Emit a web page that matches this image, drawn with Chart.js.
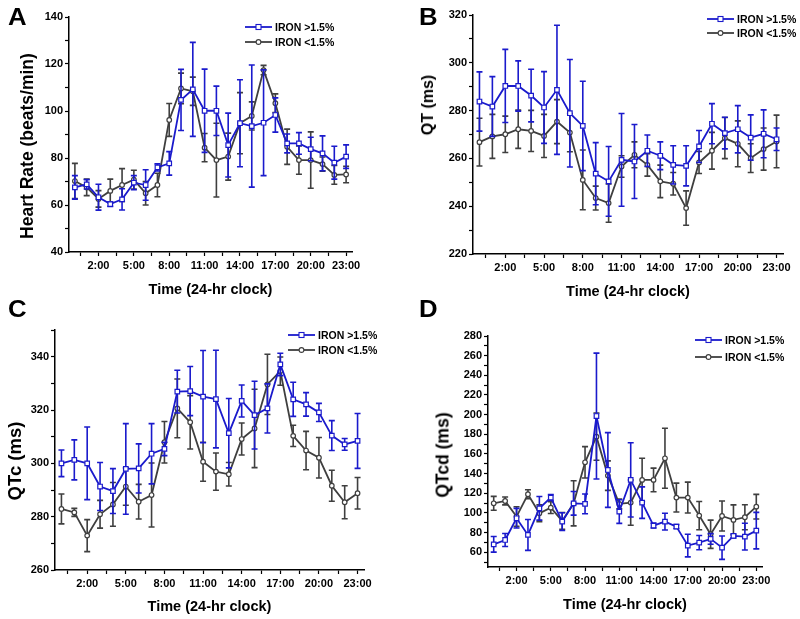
<!DOCTYPE html>
<html lang="en">
<head>
<meta charset="UTF-8">
<title>Heart rate, QT, QTc, QTcd by hour</title>
<script src="https://cdn.jsdelivr.net/npm/chart.js"></script>
<style>
    body { margin: 0; background: #fff; }
    #wrap { position: relative; width: 800px; height: 619px; background: #fff; overflow: hidden; font-family: Arial, "Liberation Sans", sans-serif; }
    .panel { position: absolute; }
    .letter { position: absolute; font-weight: bold; font-size: 23px; line-height: 1; color: #000; transform: scaleX(1.12); transform-origin: left top; }
    .ytitle { position: absolute; font-weight: bold; white-space: nowrap; color: #000; transform: translate(-50%, -50%) rotate(-90deg); }
    .legend { position: absolute; font-weight: bold; font-size: 10.5px; color: #000; }
    .legend .row { display: flex; align-items: center; white-space: nowrap; }
    .legend svg { margin-right: 3px; }
</style>
</head>
<body>
<div id="wrap">
    <canvas id="cA" class="panel" width="400" height="305" style="left:0;top:0"></canvas>
    <canvas id="cB" class="panel" width="400" height="305" style="left:400px;top:0"></canvas>
    <canvas id="cC" class="panel" width="400" height="314" style="left:0;top:305px"></canvas>
    <canvas id="cD" class="panel" width="400" height="314" style="left:400px;top:305px"></canvas>
</div>
<script>
// hours of the day (x values) and labelled ticks
const hours = [0, 1, 2, 3, 4, 5, 6, 7, 8, 9, 10, 11, 12, 13, 14, 15, 16, 17, 18, 19, 20, 21, 22, 23];
const majorHours = [2, 5, 8, 11, 14, 17, 20, 23];
const seriesNames = ['IRON >1.5%', 'IRON <1.5%'];

// A: heart rate (beats/min)
const aBlue    = [67.5, 68.8, 63.3, 60.4, 62.4, 69.5, 68.5, 76.0, 77.7, 104.7, 109.2, 100.1, 100.1, 85.5, 94.8, 93.6, 95.0, 98.3, 86.2, 86.2, 83.8, 82.0, 78.0, 80.6];
const aBlueErr = [5, 2, 5.5, 1, 4.5, 3, 6.5, 1.5, 5, 13, 20, 17.7, 10.5, 13.6, 18.5, 26, 22.5, 7.3, 4, 4.6, 5, 7.4, 7, 5];
const aGray    = [70.2, 67.5, 62.6, 66.0, 68.5, 70.8, 65.0, 68.5, 96.2, 109.6, 108.4, 84.4, 79.1, 80.6, 94.8, 97.9, 117.4, 103.3, 84.8, 79.1, 79.1, 77.4, 72.8, 73.0];
const aGrayErr = [7.5, 3.5, 3.5, 5, 7, 4, 5, 5, 7, 6.5, 6, 6, 15.7, 10, 13, 6, 2, 4, 7.5, 6, 12, 3, 4, 3.5];

// B: QT (ms)
const bBlue    = [283.8, 281.7, 290.3, 290.3, 286.3, 281.3, 288.7, 278.9, 273.6, 253.6, 250.4, 259.4, 258.7, 263.2, 261.1, 257.3, 256.9, 265.0, 274.5, 270.6, 272.2, 268.7, 270.3, 268.0];
const bBlueErr = [12.4, 12.5, 15.3, 10.5, 11, 15, 27, 22.5, 18.7, 13, 14.6, 19.4, 15.5, 6.6, 5.8, 8, 8.4, 6.7, 8.4, 6.6, 9.9, 9.5, 10, 4.7];
const bGray    = [266.8, 269.2, 270.1, 272.2, 271.5, 269.4, 275.4, 270.8, 251.0, 243.4, 241.3, 256.6, 261.5, 257.3, 250.4, 249.4, 239.2, 258.3, 263.2, 268.5, 266.1, 260.1, 263.9, 267.1];
const bGrayErr = [10, 9.2, 7.6, 8, 8.6, 9, 9.2, 8, 12.5, 5, 8, 4.5, 5.4, 4.7, 6.8, 4.7, 7.2, 4.6, 7.7, 8.6, 9.6, 6, 8.8, 11];

// C: QTc (ms)
const cBlue    = [300, 301.3, 300, 291.3, 289.6, 297.9, 298.1, 303.6, 305.4, 326.9, 327.1, 325, 324.1, 311.3, 323.4, 318.1, 320.6, 337.1, 324, 322.1, 319.1, 310.4, 307.1, 308.4];
const cBlueErr = [5, 7.5, 13.6, 9, 8.4, 17, 9.2, 11.3, 2.5, 8, 9.2, 17.3, 18.3, 13, 6, 12.7, 9.2, 4.2, 6.4, 4.4, 3.4, 5.6, 2.2, 10.3];
const cGray    = [282.9, 281.6, 272.9, 280.9, 284.6, 291.3, 285.6, 288.1, 307.9, 320.6, 315.4, 300.6, 296.9, 295.9, 309.1, 313.1, 329.6, 334.6, 310.3, 304.8, 302.1, 291.6, 285.4, 288.8];
const cGrayErr = [5.6, 1.5, 6, 5.2, 8.2, 7, 6.5, 12, 7.8, 11, 10, 7.3, 7, 4.4, 6, 14.7, 11.3, 5.3, 4, 7.2, 7.6, 5.8, 6.2, 5.9];

// D: QTcd (ms)
const dBlue    = [68.1, 72.5, 94.6, 77.6, 104.7, 115.6, 91.2, 109.8, 109.2, 198.6, 143.7, 101.4, 133.6, 110.5, 87.1, 91.2, 86.1, 66.8, 69.8, 73.6, 64.7, 76.6, 75.9, 82.0];
const dBlueErr = [8, 6.6, 10, 15.7, 12, 3, 9, 12, 10, 64, 38, 12, 37.8, 16, 2.5, 8.5, 2, 11.5, 7.3, 5.4, 11.9, 2, 13.6, 18.6];
const dGray    = [109.8, 112.2, 96.3, 119, 99.7, 105.4, 91.9, 109.8, 151.5, 177.6, 138, 109.2, 110.5, 133.6, 133.6, 155.6, 115.6, 115.6, 97.3, 78.3, 96.9, 92.9, 95.6, 106.4];
const dGrayErr = [7, 4, 10, 4.6, 8.5, 6, 8.5, 23, 16, 24, 15, 5, 23, 22, 12, 30.5, 14.7, 15.7, 14.4, 14.4, 15.3, 15.3, 12.7, 12.5];

const BLUE = '#1a1acc';
const GRAY = '#3f3f3f';
const FONT = 'Arial, "Liberation Sans", sans-serif';

// vertical error bars with caps, drawn under each dataset
const errorBars = {
    id: 'errorBars',
    beforeDatasetDraw(chart, args) {
        const ds = chart.data.datasets[args.index];
        const y = chart.scales.y;
        const ctx = chart.ctx;
        ctx.save();
        ctx.strokeStyle = ds.borderColor;
        ctx.lineWidth = 1.6;
        args.meta.data.forEach((pt, i) => {
            const v = ds.data[i].y, e = ds.errors[i];
            const top = y.getPixelForValue(v + e);
            const bot = y.getPixelForValue(v - e);
            ctx.beginPath();
            ctx.moveTo(pt.x, top); ctx.lineTo(pt.x, bot);
            ctx.moveTo(pt.x - 3, top); ctx.lineTo(pt.x + 3, top);
            ctx.moveTo(pt.x - 3, bot); ctx.lineTo(pt.x + 3, bot);
            ctx.stroke();
        });
        ctx.restore();
    }
};

function series(label, vals, errs, color, style, radius) {
    return {
        label: label,
        data: hours.map((h, i) => ({ x: h, y: vals[i] })),
        errors: errs,
        borderColor: color,
        borderWidth: 1.8,
        pointStyle: style,
        pointRadius: radius,
        pointBorderWidth: 1.2,
        pointBackgroundColor: '#fff',
        pointBorderColor: color,
        tension: 0
    };
}

function makePanel(p) {
    const xTicks = [];
    majorHours.forEach(h => { xTicks.push(h - 1.5, h); });
    new Chart(document.getElementById(p.id), {
        type: 'line',
        data: {
            datasets: [
                series(seriesNames[0], p.blue, p.blueErr, BLUE, 'rect', 3.2),
                series(seriesNames[1], p.gray, p.grayErr, GRAY, 'circle', 2.3)
            ]
        },
        options: {
            responsive: false,
            animation: false,
            layout: { padding: p.pad },
            plugins: { legend: { display: false }, tooltip: { enabled: false } },
            scales: {
                x: {
                    type: 'linear', min: -0.5, max: 23.5,
                    afterBuildTicks: s => { s.ticks = xTicks.map(v => ({ value: v })); },
                    afterFit: s => { s.height = p.xH; },
                    grid: { display: true, drawOnChartArea: false, drawTicks: true, tickLength: 4, tickColor: '#000', tickWidth: 1.2 },
                    border: { display: true, color: '#000', width: 1.5 },
                    ticks: {
                        autoSkip: false, maxRotation: 0, padding: 3, color: '#000',
                        font: { family: FONT, size: 11, weight: 'bold' },
                        callback: v => Number.isInteger(v) ? v + ':00' : ''
                    },
                    title: {
                        display: true, text: 'Time (24-hr clock)', color: '#000',
                        font: { family: FONT, size: 14.5, weight: 'bold' },
                        padding: { top: 0, bottom: p.xTitlePad }
                    }
                },
                y: {
                    min: p.yMin, max: p.yMax,
                    afterBuildTicks: s => {
                        const t = [];
                        for (let v = Math.ceil(p.yMin / 10) * 10; v <= p.yMax; v += 10) t.push({ value: v });
                        s.ticks = t;
                    },
                    afterFit: s => { s.width = p.yW; },
                    grid: { display: true, drawOnChartArea: false, drawTicks: true, tickLength: 4, tickColor: '#000', tickWidth: 1.2 },
                    border: { display: true, color: '#000', width: 1.5 },
                    ticks: {
                        autoSkip: false, padding: 2, color: '#000',
                        font: { family: FONT, size: 11, weight: 'bold' },
                        callback: v => v % 20 === 0 ? v : ''
                    }
                }
            }
        },
        plugins: [errorBars]
    });

    const wrap = document.getElementById('wrap');
    const letter = document.createElement('div');
    letter.className = 'letter';
    letter.textContent = p.letter;
    letter.style.left = p.letterPos[0] + 'px';
    letter.style.top = p.letterPos[1] + 'px';
    wrap.appendChild(letter);

    const yt = document.createElement('div');
    yt.className = 'ytitle';
    yt.textContent = p.yTitle;
    yt.style.fontSize = p.yTitleSize + 'px';
    yt.style.left = p.yTitlePos[0] + 'px';
    yt.style.top = p.yTitlePos[1] + 'px';
    wrap.appendChild(yt);

    const lg = document.createElement('div');
    lg.className = 'legend';
    lg.style.left = p.legendPos[0] + 'px';
    lg.style.top = p.legendPos[1] + 'px';
    const marks = [
        `<svg width="27" height="8"><line x1="0" y1="4" x2="27" y2="4" stroke="${BLUE}" stroke-width="1.8"/><rect x="11" y="1.5" width="5" height="5" fill="#fff" stroke="${BLUE}" stroke-width="1.1"/></svg>`,
        `<svg width="27" height="8"><line x1="0" y1="4" x2="27" y2="4" stroke="${GRAY}" stroke-width="1.8"/><circle cx="13.5" cy="4" r="2.4" fill="#fff" stroke="${GRAY}" stroke-width="1.1"/></svg>`
    ];
    lg.innerHTML = seriesNames.map((n, i) =>
        `<div class="row" style="height:${p.legendRow}px">${marks[i]}<span>${n}</span></div>`).join('');
    wrap.appendChild(lg);
}

makePanel({
    id: 'cA', letter: 'A', letterPos: [8, 6],
    pad: { top: 17, right: 48, bottom: 0, left: 0 }, yW: 69, xH: 53, xTitlePad: 6.5,
    yMin: 40, yMax: 140, yTitle: 'Heart Rate (beats/min)', yTitleSize: 17.5, yTitlePos: [27, 146],
    legendPos: [245, 19], legendRow: 15,
    blue: aBlue, blueErr: aBlueErr, gray: aGray, grayErr: aGrayErr
});
makePanel({
    id: 'cB', letter: 'B', letterPos: [419, 6],
    pad: { top: 15, right: 17, bottom: 0, left: 0 }, yW: 73, xH: 51, xTitlePad: 4,
    yMin: 220, yMax: 320, yTitle: 'QT (ms)', yTitleSize: 16, yTitlePos: [428, 105],
    legendPos: [707, 12], legendRow: 14,
    blue: bBlue, blueErr: bBlueErr, gray: bGray, grayErr: bGrayErr
});
makePanel({
    id: 'cC', letter: 'C', letterPos: [8, 298],
    pad: { top: 25, right: 36, bottom: 0, left: 0 }, yW: 55, xH: 49, xTitlePad: 3,
    yMin: 260, yMax: 350, yTitle: 'QTc (ms)', yTitleSize: 18.5, yTitlePos: [15, 461],
    legendPos: [288, 327], legendRow: 15,
    blue: cBlue, blueErr: cBlueErr, gray: cGray, grayErr: cGrayErr
});
makePanel({
    id: 'cD', letter: 'D', letterPos: [419, 298],
    pad: { top: 31, right: 38, bottom: 0, left: 0 }, yW: 88, xH: 52, xTitlePad: 5,
    yMin: 45, yMax: 280, yTitle: 'QTcd (ms)', yTitleSize: 17.5, yTitlePos: [443, 455],
    legendPos: [695, 331], legendRow: 17,
    blue: dBlue, blueErr: dBlueErr, gray: dGray, grayErr: dGrayErr
});
</script>
</body>
</html>
